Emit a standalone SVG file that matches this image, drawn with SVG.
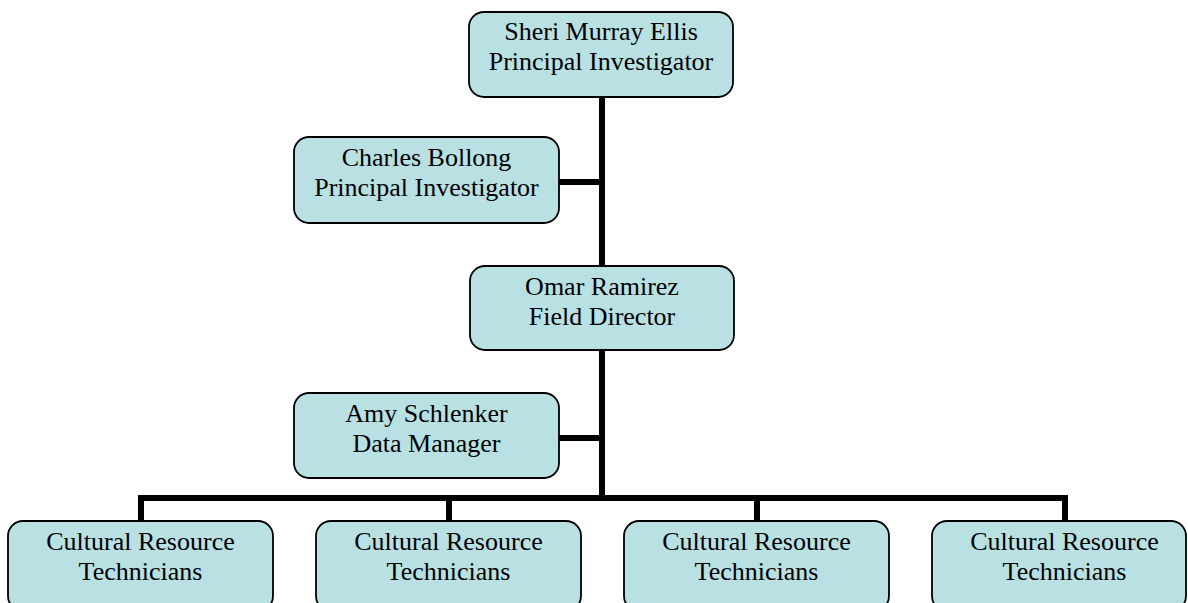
<svg xmlns="http://www.w3.org/2000/svg" width="1188" height="603" viewBox="0 0 1188 603">
<style>
.box{fill:#b9e0e3;stroke:#000;stroke-width:1.8}
.t{font-family:"Liberation Serif","Times New Roman",serif;font-size:26px;fill:#000;text-anchor:middle}
.c{stroke:#000;stroke-width:6;fill:none;stroke-linecap:butt}
</style>
<rect width="1188" height="603" fill="#fff"/>
<g id="connectors">
<line class="c" x1="602" y1="97" x2="602" y2="266"/>
<line class="c" x1="559" y1="182" x2="602" y2="182"/>
<line class="c" x1="602" y1="350" x2="602" y2="501"/>
<line class="c" x1="559" y1="438" x2="602" y2="438"/>
<polyline class="c" points="141,521 141,498 1065,498 1065,521"/>
<line class="c" x1="449" y1="498" x2="449" y2="521"/>
<line class="c" x1="757" y1="498" x2="757" y2="521"/>
</g>
<g id="sheri">
<rect class="box" x="469" y="12" width="264" height="85" rx="15"/>
<text class="t" x="601" y="40">Sheri Murray Ellis</text>
<text class="t" x="601" y="70">Principal Investigator</text>
</g>
<g id="charles">
<rect class="box" x="294" y="137" width="265" height="86" rx="15"/>
<text class="t" x="426.5" y="166">Charles Bollong</text>
<text class="t" x="426.5" y="196">Principal Investigator</text>
</g>
<g id="omar">
<rect class="box" x="470" y="266" width="264" height="84" rx="15"/>
<text class="t" x="602" y="295">Omar Ramirez</text>
<text class="t" x="602" y="325">Field Director</text>
</g>
<g id="amy">
<rect class="box" x="294" y="393" width="265" height="85" rx="15"/>
<text class="t" x="426.5" y="422">Amy Schlenker</text>
<text class="t" x="426.5" y="452">Data Manager</text>
</g>
<g id="crt1">
<rect class="box" x="8" y="521" width="265" height="90" rx="15"/>
<text class="t" x="140.5" y="550">Cultural Resource</text>
<text class="t" x="140.5" y="580">Technicians</text>
</g>
<g id="crt2">
<rect class="box" x="316" y="521" width="265" height="90" rx="15"/>
<text class="t" x="448.5" y="550">Cultural Resource</text>
<text class="t" x="448.5" y="580">Technicians</text>
</g>
<g id="crt3">
<rect class="box" x="624" y="521" width="265" height="90" rx="15"/>
<text class="t" x="756.5" y="550">Cultural Resource</text>
<text class="t" x="756.5" y="580">Technicians</text>
</g>
<g id="crt4">
<rect class="box" x="932" y="521" width="254" height="90" rx="15"/>
<text class="t" x="1064.5" y="550">Cultural Resource</text>
<text class="t" x="1064.5" y="580">Technicians</text>
</g>
</svg>
